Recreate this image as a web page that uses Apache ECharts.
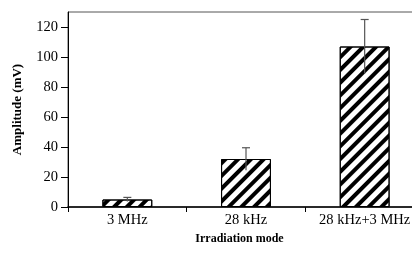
<!DOCTYPE html>
<html>
<head>
<meta charset="utf-8">
<script src="https://cdn.jsdelivr.net/npm/echarts@6/dist/echarts.min.js"></script>
<style>
  html, body { margin: 0; padding: 0; background: #fff; }
  #chart { width: 412px; height: 261px; }
</style>
</head>
<body>
<div id="chart"></div>
<script>
var modes = ['3 MHz', '28 kHz', '28 kHz+3 MHz'];
var amplitude = [5, 32, 107];
var errors = [1.4, 7.5, 18];
var yTicks = [0, 20, 40, 60, 80, 100, 120];

var font = 'Liberation Serif';
var myChart = echarts.init(document.getElementById('chart'));

// error bars: line through the bar top, cap only on the upper end
var errData = amplitude.map(function (v, i) {
    return [i, v - errors[i], v + errors[i]];
});

myChart.setOption({
    animation: false,
    grid: {
        left: 68,
        top: 12,
        bottom: 54,
        right: -12,
        show: true,
        borderColor: '#555',
        borderWidth: 1,
        outerBoundsMode: 'none'
    },
    xAxis: {
        type: 'category',
        data: modes,
        name: 'Irradiation mode',
        nameLocation: 'middle',
        nameGap: 24,
        nameTextStyle: {
            fontFamily: font,
            fontWeight: 'bold',
            fontSize: 12,
            color: '#000',
            padding: [0, 13, 0, 0]
        },
        axisLine: {lineStyle: {color: '#000', width: 1.5}},
        axisTick: {show: true, length: 5, lineStyle: {color: '#000'}},
        axisLabel: {
            fontFamily: font,
            fontSize: 14.5,
            color: '#000',
            margin: 6
        }
    },
    yAxis: {
        type: 'value',
        min: 0,
        max: 130,
        interval: 20,
        name: 'Amplitude (mV)',
        nameLocation: 'middle',
        nameGap: 44,
        nameTextStyle: {
            fontFamily: font,
            fontWeight: 'bold',
            fontSize: 13,
            color: '#000'
        },
        axisLine: {show: true, lineStyle: {color: '#000', width: 1}},
        axisTick: {show: true, length: 7, lineStyle: {color: '#000'}},
        axisLabel: {
            fontFamily: font,
            fontSize: 14.5,
            color: '#000',
            margin: 10,
            showMaxLabel: false,
            formatter: function (v) {
                return yTicks.indexOf(v) >= 0 ? String(v) : '';
            }
        },
        splitLine: {show: false}
    },
    series: [{
        type: 'bar',
        data: amplitude,
        barWidth: '42%',
        itemStyle: {
            color: '#fff',
            borderColor: '#000',
            borderWidth: 1,
            decal: {
                symbol: 'rect',
                symbolSize: 1,
                dashArrayX: [1, 0],
                dashArrayY: [4, 5],
                rotation: -Math.PI / 4,
                color: '#000'
            }
        },
        z: 2
    }, {
        type: 'custom',
        data: errData,
        z: 5,
        renderItem: function (params, api) {
            var lo = api.coord([api.value(0), api.value(1)]);
            var hi = api.coord([api.value(0), api.value(2)]);
            var st = {stroke: '#555', lineWidth: 1.2};
            return {
                type: 'group',
                children: [{
                    type: 'line',
                    shape: {x1: hi[0], y1: hi[1], x2: lo[0], y2: lo[1]},
                    style: st
                }, {
                    type: 'line',
                    shape: {x1: hi[0] - 4, y1: hi[1], x2: hi[0] + 4, y2: hi[1]},
                    style: st
                }]
            };
        }
    }]
});
</script>
</body>
</html>
